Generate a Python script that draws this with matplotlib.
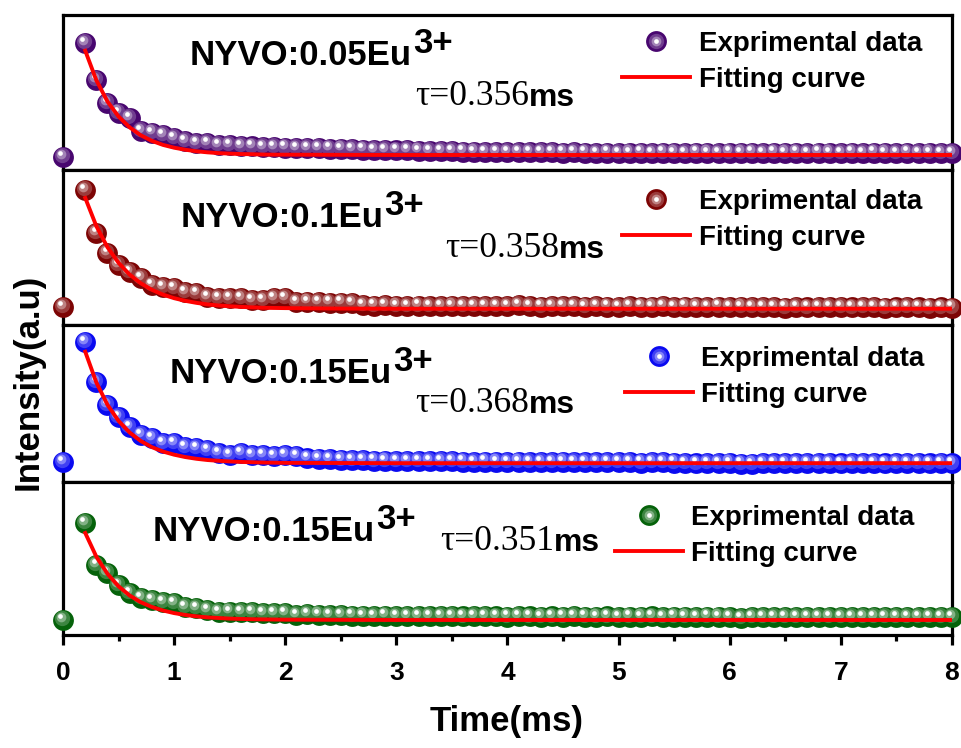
import numpy as np
import matplotlib
matplotlib.use("Agg")
import matplotlib.pyplot as plt
import matplotlib.colors as mcolors
from matplotlib import transforms
from matplotlib.ticker import MultipleLocator
from matplotlib.legend_handler import HandlerTuple

plt.rcParams['font.family'] = ['Liberation Sans', 'DejaVu Sans']
plt.rcParams['font.weight'] = 'bold'

# time grid (ms): first point at 0, then every 0.1 ms from 0.2 to 8.0
time = np.round(np.concatenate([[0.0], np.arange(0.2, 8.01, 0.1)]), 1)
fit_time = [0.2, 0.3, 0.4, 0.5, 0.6, 0.7, 0.8, 0.9, 1.0, 1.1, 1.2, 1.3, 1.4,
            1.5, 1.6, 1.7, 1.8, 1.9, 2.0, 2.5, 3, 4, 5, 6, 7, 8]

# normalized intensity (each panel 0..1)
data_005 = [0.084,
            0.82, 0.58, 0.43, 0.37, 0.335, 0.25, 0.24, 0.225, 0.205, 0.185,
            0.175, 0.175, 0.162, 0.16, 0.155, 0.152, 0.148, 0.147, 0.145, 0.143,
            0.14, 0.142, 0.138, 0.137, 0.135,
            0.132, 0.130, 0.128, 0.126, 0.127, 0.124, 0.122, 0.121, 0.120, 0.119,
            0.118, 0.115, 0.114, 0.116, 0.117, 0.114, 0.115, 0.116, 0.113, 0.115,
            0.112, 0.110, 0.113, 0.108, 0.111, 0.112, 0.110, 0.113, 0.111, 0.109,
            0.113, 0.111, 0.108, 0.112, 0.111, 0.113, 0.110, 0.112, 0.111, 0.113,
            0.110, 0.112, 0.111, 0.109, 0.112, 0.110, 0.113, 0.111, 0.110, 0.112,
            0.110, 0.111, 0.109, 0.110]
data_01 = [0.116,
           0.87, 0.594, 0.465, 0.387, 0.342, 0.303, 0.258, 0.245, 0.239, 0.213,
           0.206, 0.18, 0.174, 0.174, 0.174, 0.161, 0.161, 0.174, 0.174, 0.148,
           0.15, 0.148, 0.145, 0.145, 0.142,
           0.128, 0.125, 0.127, 0.124, 0.122, 0.125, 0.123, 0.121, 0.124, 0.122,
           0.120, 0.123, 0.121, 0.122, 0.127, 0.121, 0.119, 0.122, 0.120, 0.121,
           0.118, 0.120, 0.119, 0.117, 0.121, 0.119, 0.118, 0.120, 0.117, 0.119,
           0.118, 0.116, 0.119, 0.117, 0.118, 0.115, 0.117, 0.116, 0.112, 0.114,
           0.113, 0.115, 0.114, 0.116, 0.113, 0.115, 0.114, 0.112, 0.113, 0.114,
           0.113, 0.112, 0.113, 0.112]
data_015 = [0.127,
            0.89, 0.637, 0.49, 0.414, 0.35, 0.30, 0.28, 0.248, 0.248, 0.223,
            0.217, 0.204, 0.185, 0.172, 0.185, 0.172, 0.17, 0.165, 0.17, 0.165,
            0.15, 0.148, 0.145, 0.142, 0.14,
            0.138, 0.137, 0.135, 0.134, 0.134, 0.132, 0.133, 0.131, 0.132, 0.130,
            0.125, 0.130, 0.129, 0.128, 0.129, 0.127, 0.128, 0.126, 0.129, 0.127,
            0.126, 0.127, 0.125, 0.127, 0.126, 0.124, 0.126, 0.125, 0.124, 0.120,
            0.118, 0.122, 0.121, 0.123, 0.117, 0.116, 0.119, 0.121, 0.120, 0.122,
            0.119, 0.121, 0.120, 0.118, 0.121, 0.119, 0.120, 0.118, 0.119, 0.120,
            0.119, 0.118, 0.119, 0.118]
data_015b = [0.098,
             0.732, 0.458, 0.405, 0.327, 0.275, 0.242, 0.229, 0.216, 0.209, 0.183,
             0.176, 0.163, 0.15, 0.152, 0.15, 0.15, 0.144, 0.144, 0.144, 0.131,
             0.135, 0.132, 0.13, 0.128, 0.127,
             0.126, 0.125, 0.127, 0.124, 0.125, 0.123, 0.124, 0.122, 0.123, 0.121,
             0.122, 0.123, 0.121, 0.120, 0.122, 0.121, 0.119, 0.121, 0.120, 0.122,
             0.120, 0.119, 0.121, 0.118, 0.120, 0.119, 0.121, 0.118, 0.120, 0.119,
             0.118, 0.120, 0.119, 0.116, 0.110, 0.117, 0.118, 0.116, 0.118, 0.117,
             0.116, 0.118, 0.117, 0.116, 0.118, 0.117, 0.116, 0.117, 0.116, 0.118,
             0.117, 0.116, 0.117, 0.116]

fit_005 = [0.77, 0.579, 0.442, 0.345, 0.275, 0.224, 0.188, 0.162, 0.144, 0.131,
           0.121, 0.114, 0.109, 0.106, 0.103, 0.102, 0.100, 0.099, 0.099, 0.098,
           0.097, 0.097, 0.097, 0.097, 0.097, 0.097]
fit_01 = [0.820, 0.638, 0.502, 0.401, 0.325, 0.269, 0.227, 0.196, 0.173, 0.156,
          0.143, 0.133, 0.126, 0.121, 0.117, 0.114, 0.111, 0.110, 0.109, 0.106,
          0.105, 0.105, 0.105, 0.105, 0.105, 0.105]
fit_015 = [0.83, 0.634, 0.492, 0.389, 0.315, 0.261, 0.222, 0.194, 0.174, 0.159,
           0.148, 0.140, 0.135, 0.131, 0.128, 0.126, 0.124, 0.123, 0.122, 0.121,
           0.120, 0.120, 0.120, 0.120, 0.120, 0.120]
fit_015b = [0.667, 0.512, 0.400, 0.318, 0.258, 0.214, 0.183, 0.160, 0.143, 0.131,
            0.122, 0.115, 0.111, 0.107, 0.105, 0.103, 0.102, 0.101, 0.100, 0.099,
            0.098, 0.098, 0.098, 0.098, 0.098, 0.098]

samples = ["NYVO:0.05Eu", "NYVO:0.1Eu", "NYVO:0.15Eu", "NYVO:0.15Eu"]
taus = ["0.356", "0.358", "0.368", "0.351"]
colors = ["#48066f", "#7d0404", "#0a0af0", "#05620a"]
all_data = [data_005, data_01, data_015, data_015b]
all_fits = [fit_005, fit_01, fit_015, fit_015b]

# panel boxes in figure fractions (left, bottom, width, height)
boxes = [(0.0655, 0.7727, 0.924, 0.2072),
         (0.0655, 0.5655, 0.924, 0.2072),
         (0.0655, 0.3556, 0.924, 0.2099),
         (0.0655, 0.1511, 0.924, 0.2045)]
# text placement in axes fractions
name_pos = [(0.143, 0.677), (0.132, 0.632), (0.120, 0.630), (0.101, 0.614)]
tau_pos = [(0.396, 0.419), (0.430, 0.439), (0.396, 0.446), (0.424, 0.556)]
leg_pos = [(0.629, 0.897), (0.629, 0.877), (0.632, 0.866), (0.621, 0.850)]

fig = plt.figure(figsize=(9.62, 7.48), dpi=100)


def mix(c, f):
    r, g, b = mcolors.to_rgb(c)
    return (r + (1 - r) * f, g + (1 - g) * f, b + (1 - b) * f)


# shaded-ball look: stacked circles, lighter and smaller toward the upper left
ball_layers = [(15, 0.0, 0.0, 0.0), (11, 0.22, -0.9, 1.4),
               (7, 0.5, -1.6, 2.4), (3.4, 1.0, -2.0, 3.0)]

for i in range(4):
    ax = fig.add_axes(boxes[i])
    col = colors[i]
    balls = []
    for k, (ms, f, dx, dy) in enumerate(ball_layers):
        tr = transforms.offset_copy(ax.transData, fig=fig, x=dx, y=dy, units='points')
        h, = ax.plot(time, all_data[i], 'o', ls='none', ms=ms, color=mix(col, f),
                     mec='none', clip_on=False, zorder=3 + 0.1 * k, transform=tr)
        balls.append(h)
    fl, = ax.plot(fit_time, all_fits[i], color='#ff0000', lw=2.8, zorder=4)

    ax.set_xlim(0, 8)
    ax.set_ylim(0, 1)
    for s in ax.spines.values():
        s.set_linewidth(2.3)
    ax.set_yticks([])

    nm = ax.text(name_pos[i][0], name_pos[i][1], samples[i], transform=ax.transAxes,
                 fontsize=25, fontweight='bold', ha='left', va='baseline')
    ax.annotate("3+", xy=(1, 0.36), xycoords=nm, xytext=(1, 0), textcoords='offset points',
                fontsize=25, fontweight='bold', ha='left', va='bottom')
    tt = ax.text(tau_pos[i][0], tau_pos[i][1], "\u03c4=" + taus[i], transform=ax.transAxes,
                 fontsize=25.5, fontweight='normal', family=['Liberation Serif', 'DejaVu Serif'],
                 ha='left', va='baseline')
    ax.annotate("ms", xy=(1, 0), xycoords=tt, fontsize=23, fontweight='bold',
                ha='left', va='bottom')

    ax.legend([tuple(balls), fl], ["Exprimental data", "Fitting curve"],
              handler_map={tuple: HandlerTuple(ndivide=1, pad=0)},
              loc='upper left', bbox_to_anchor=leg_pos[i], borderaxespad=0, borderpad=0,
              frameon=False, handlelength=2.45, handletextpad=0.3, labelspacing=0.35,
              prop={'family': 'Liberation Sans', 'weight': 'bold', 'size': 20})

    if i < 3:
        ax.set_xticks([])
    else:
        ax.set_xticks(range(9))
        ax.xaxis.set_minor_locator(MultipleLocator(0.5))
        ax.tick_params(axis='x', which='major', direction='out', length=7, width=2.3,
                       pad=12, labelsize=19)
        ax.tick_params(axis='x', which='minor', direction='out', length=4, width=2.3)
        for lb in ax.get_xticklabels():
            lb.set_fontweight('bold')

fig.text(507 / 962, 1 - 722 / 748, "Time(ms)", fontsize=25, fontweight='bold',
         ha='center', va='center')
fig.text(28 / 962, 1 - 382 / 748, "Intensity(a.u)", fontsize=25, fontweight='bold',
         rotation=90, ha='center', va='center')

fig.savefig("out.png", dpi=100, facecolor='white')
